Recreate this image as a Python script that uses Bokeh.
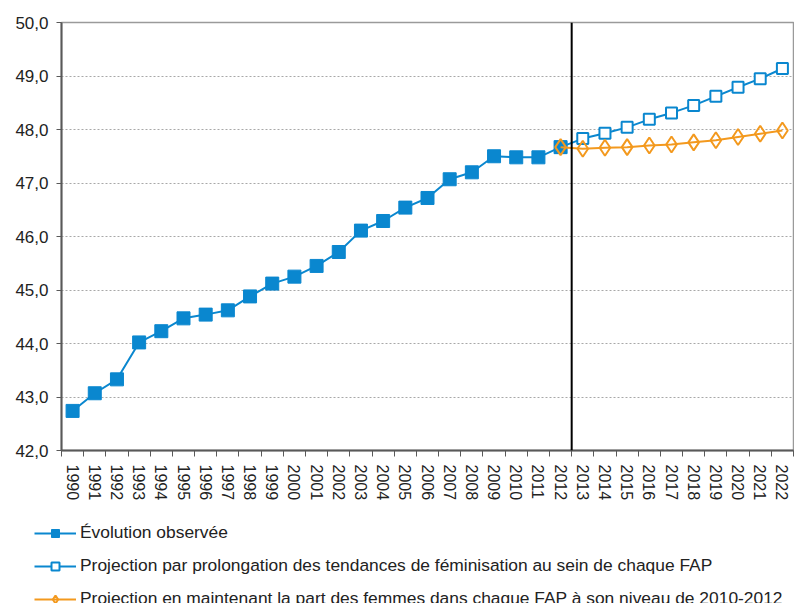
from bokeh.plotting import figure
from bokeh.models import Span, Legend, LegendItem, FixedTicker, CustomJSTickFormatter, Range1d
from bokeh.embed import file_html
from bokeh.resources import INLINE

# ---- data ----
years = list(range(1990, 2023))
obs_years = list(range(1990, 2013))
observed = [42.74, 43.07, 43.33, 44.02, 44.23, 44.47, 44.54, 44.62, 44.88, 45.12,
            45.25, 45.45, 45.71, 46.11, 46.29, 46.54, 46.72, 47.07, 47.20, 47.50,
            47.48, 47.48, 47.67]
proj_years = list(range(2012, 2023))
proj_trend = [47.67, 47.83, 47.93, 48.04, 48.19, 48.31, 48.45, 48.62, 48.79, 48.95, 49.14]
proj_constant = [47.67, 47.64, 47.66, 47.67, 47.70, 47.72, 47.76, 47.80, 47.86, 47.92, 47.98]
y_ticks = [42, 43, 44, 45, 46, 47, 48, 49, 50]
split_year = 2012.5
labels = [
    "Évolution observée",
    "Projection par prolongation des tendances de féminisation au sein de chaque FAP",
    "Projection en maintenant la part des femmes dans chaque FAP à son niveau de 2010-2012",
]

BLUE = "#0a87cf"
ORANGE = "#f3991e"
AXIS = "#595959"
FONT = "Liberation Sans"


def draw_series(fig):
    l2 = fig.line(proj_years, proj_trend, line_color=BLUE, line_width=2)
    s2 = fig.scatter(proj_years, proj_trend, marker="square", size=11, line_color=BLUE,
                     line_width=2, fill_color="white")
    l1 = fig.line(obs_years, observed, line_color=BLUE, line_width=2)
    s1 = fig.scatter(obs_years, observed, marker="square", size=13, line_color=BLUE,
                     line_width=1, fill_color=BLUE)
    l3 = fig.line(proj_years, proj_constant, line_color=ORANGE, line_width=2)
    s3 = fig.scatter(proj_years, proj_constant, marker="diamond", size=16, line_color=ORANGE,
                     line_width=2, fill_color="white", fill_alpha=0.0)
    return (l1, s1), (l2, s2), (l3, s3)


# ---- main chart ----
p = figure(width=794, height=510,
           x_range=Range1d(years[0] - 0.5, years[-1] + 0.5),
           y_range=Range1d(y_ticks[0], y_ticks[-1]),
           output_backend="svg", toolbar_location=None,
           min_border_left=61, min_border_right=1, min_border_top=22, min_border_bottom=60)

p.outline_line_color = "#9a9a9a"
p.outline_line_width = 1.5
p.background_fill_color = "white"
p.border_fill_color = "white"

xa = p.xaxis[0]
xa.ticker = FixedTicker(ticks=years, minor_ticks=[y - 0.5 for y in years] + [years[-1] + 0.5])
xa.formatter = CustomJSTickFormatter(code="return tick.toFixed(0)")
xa.major_label_orientation = "vertical"
xa.major_tick_out = 0
xa.major_tick_in = 0
xa.minor_tick_out = 6
xa.minor_tick_in = 0
xa.minor_tick_line_color = AXIS
xa.minor_tick_line_width = 1
xa.major_label_standoff = 8
xa.major_label_text_font = FONT
xa.major_label_text_font_size = "16px"
xa.major_label_text_color = "#222222"
xa.axis_line_color = AXIS
xa.axis_line_width = 2

ya = p.yaxis[0]
ya.ticker = FixedTicker(ticks=y_ticks)
ya.formatter = CustomJSTickFormatter(code="return tick.toFixed(1).replace('.', ',')")
ya.major_tick_out = 5
ya.major_tick_in = 0
ya.minor_tick_out = 0
ya.minor_tick_in = 0
ya.major_tick_line_color = AXIS
ya.major_label_standoff = 8
ya.major_label_text_font = FONT
ya.major_label_text_font_size = "17px"
ya.major_label_text_color = "#222222"
ya.axis_line_color = AXIS
ya.axis_line_width = 2

p.xgrid.grid_line_color = None
p.ygrid.grid_line_color = "#a8a8a8"
p.ygrid.grid_line_dash = "2 2"
p.ygrid.grid_line_width = 1

draw_series(p)
p.add_layout(Span(location=split_year, dimension="height", line_color="black", line_width=2))

# ---- legend strip (same series, drawn outside its view so only the legend shows) ----
pl = figure(width=794, height=93, x_range=Range1d(0, 1), y_range=Range1d(0, 1),
            output_backend="svg", toolbar_location=None,
            x_axis_location=None, y_axis_location=None,
            min_border_left=0, min_border_right=0, min_border_top=0, min_border_bottom=0)
pl.grid.grid_line_color = None
pl.outline_line_color = None
r1, r2, r3 = draw_series(pl)

legend = Legend(items=[
    LegendItem(label=labels[0], renderers=list(r1)),
    LegendItem(label=labels[1], renderers=list(r2)),
    LegendItem(label=labels[2], renderers=list(r3)),
], location=(34, -6), orientation="vertical", padding=0, margin=0, spacing=12,
    glyph_width=42, glyph_height=20, label_height=20, label_standoff=4,
    label_text_font=FONT, label_text_font_size="17.4px", label_text_color="#222222",
    border_line_color=None, background_fill_alpha=0)
pl.add_layout(legend)

open("out.html", "w").write(file_html([p, pl], INLINE))
